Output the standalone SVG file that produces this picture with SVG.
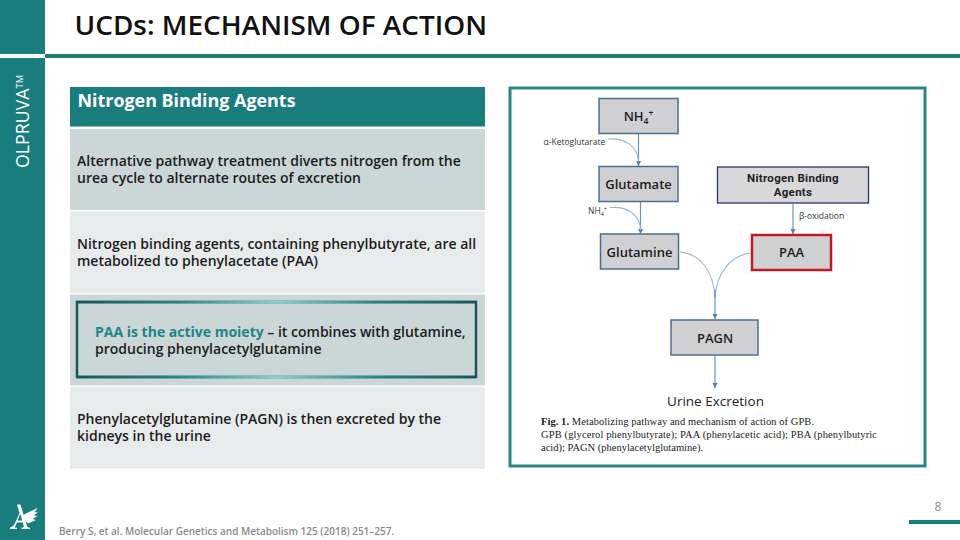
<svg xmlns="http://www.w3.org/2000/svg" width="960" height="540" viewBox="0 0 960 540">
<style>
text{font-family:"Open Sans","Noto Sans","Liberation Sans",sans-serif}
.body{font-size:14px;font-weight:600;fill:#1c1c1c}
.box{fill:#d0d0d2;stroke:#4d6f8f;stroke-width:1.5}
.lbl{font-size:13px;font-weight:600;fill:#1c1c1c;text-anchor:middle}
.agents{font-family:Roboto,"Open Sans",sans-serif;font-size:11.500px;font-weight:700;fill:#222;text-anchor:middle;letter-spacing:.3px}
.small{font-size:8.500px;font-weight:500;fill:#333}
.cap{font-family:"Liberation Serif",serif;font-size:10.500px;fill:#222}
.edge{fill:none;stroke:#6d94b8;stroke-width:1.2}
.edgelt{fill:none;stroke:#9cb8d2;stroke-width:1.1}
</style>
<defs>
<marker id="tip" markerWidth="7" markerHeight="6" refX="5" refY="2.500" orient="auto" markerUnits="userSpaceOnUse"><path d="M0 0L5 2.500L0 5Z" fill="#4f82b0"/></marker>
<linearGradient id="glow" x1="0" x2="1" y1="0" y2="0"><stop offset="0" stop-color="#17585a"/><stop offset=".25" stop-color="#2a8484"/><stop offset=".5" stop-color="#86d2ce"/><stop offset=".75" stop-color="#2a8484"/><stop offset="1" stop-color="#17585a"/></linearGradient>
</defs>

<!-- slide frame -->
<rect x="0" y="0" width="45" height="54" fill="#1a7d7d"/>
<rect x="0" y="58" width="45" height="482" fill="#1a7d7d"/>
<rect x="45" y="54" width="915" height="4" fill="#1a7d7d"/>
<text x="74.500" y="35" font-size="27.900" font-weight="600" fill="#111">UCDs: MECHANISM OF ACTION</text>
<text transform="translate(29 168) rotate(-90)" font-size="17.800" font-weight="400" fill="#fff">OLPRUVA<tspan font-size="9.500" dy="-6">TM</tspan></text>

<g id="logo" fill="#fff">
<path d="M10 529V527.500C13 527 14 525 15.500 522L19.500 513L17 504.500H20.500L27 526C27.500 527.500 28.500 527.500 30 527.700V529H21.500V527.600C24 527.500 24 527 23.500 525L22.800 522.500H17L15 527C14.800 527.600 15.500 527.600 17 527.700V529ZM17.800 520.500H22.200L20.200 513.500Z"/>
<path d="M23 515C27 513 33 510 37.500 508L34.500 512.500L38 512L34 515.500L37.500 516L32.500 519L36 520L28 523.500L25.500 521Z"/>
</g>

<!-- table -->
<g id="table-header">
<rect x="70" y="87" width="415" height="39.500" fill="#1a7d7d"/>
<text x="77.500" y="106.500" font-size="17.900" font-weight="700" fill="#fff">Nitrogen Binding Agents</text>
</g>
<g id="row-1">
<rect x="70" y="129" width="415" height="81" fill="#cbd6d6"/>
<text class="body" x="77" y="166">Alternative pathway treatment diverts nitrogen from the</text>
<text class="body" x="77" y="183">urea cycle to alternate routes of excretion</text>
</g>
<g id="row-2">
<rect x="70" y="211.500" width="415" height="81.500" fill="#e7ebeb"/>
<text class="body" x="77" y="249">Nitrogen binding agents, containing phenylbutyrate, are all</text>
<text class="body" x="77" y="266">metabolized to phenylacetate (PAA)</text>
</g>
<g id="row-3">
<rect x="70" y="294.500" width="415" height="91" fill="#cbd6d6"/>
<rect x="77" y="302" width="399" height="75" fill="none" stroke="#17585a" stroke-width="2.500"/>
<rect x="77" y="300.800" width="399" height="2.600" fill="url(#glow)"/>
<rect x="77" y="375.700" width="399" height="2.600" fill="url(#glow)"/>
<text class="body" x="95" y="337"><tspan fill="#1f8585" font-weight="700">PAA is the active moiety</tspan> – it combines with glutamine,</text>
<text class="body" x="95" y="354">producing phenylacetylglutamine</text>
</g>
<g id="row-4">
<rect x="70" y="387" width="415" height="82" fill="#e7ebeb"/>
<text class="body" x="77" y="424">Phenylacetylglutamine (PAGN) is then excreted by the</text>
<text class="body" x="77" y="441">kidneys in the urine</text>
</g>

<!-- pathway figure -->
<rect id="figure-frame" x="510" y="88" width="415" height="378" fill="#fff" stroke="#2d8484" stroke-width="3"/>

<g id="connectors">
<path class="edge" d="M638.500 134V166" marker-end="url(#tip)"/>
<path class="edgelt" d="M608 139C625 138 638 146 638.500 162"/>
<path class="edge" d="M640.500 202V234" marker-end="url(#tip)"/>
<path class="edgelt" d="M610 207.500C628 206 640 215 640.500 230"/>
<path class="edge" d="M793 204V234" marker-end="url(#tip)"/>
<path class="edgelt" d="M680 252C702 254 714 274 715 298"/>
<path class="edgelt" d="M750 253C730 256 716 274 715 298"/>
<path class="edge" d="M715 290V319" marker-end="url(#tip)"/>
<path class="edge" d="M715 355V388" marker-end="url(#tip)"/>
</g>

<g id="nh4"><rect class="box" x="599" y="98.500" width="79" height="35"/><text class="lbl" x="638.500" y="121">NH<tspan font-size="8.500" dy="3">4</tspan><tspan font-size="8.500" dy="-8">+</tspan></text></g>
<g id="glutamate"><rect class="box" x="599" y="166.500" width="79" height="35"/><text class="lbl" x="638.500" y="189">Glutamate</text></g>
<g id="glutamine"><rect class="box" x="600.500" y="234" width="78" height="35"/><text class="lbl" x="639.500" y="256.500">Glutamine</text></g>
<g id="agents"><rect x="717.500" y="167" width="151" height="36" fill="#d8d8da" stroke="#2c3568" stroke-width="1.300"/><text class="agents" x="793" y="182">Nitrogen Binding</text><text class="agents" x="793" y="196">Agents</text></g>
<g id="paa"><rect x="752" y="235" width="79" height="35" fill="#d0d0d2" stroke="#c01a20" stroke-width="2.500"/><text class="lbl" x="791.500" y="257">PAA</text></g>
<g id="pagn"><rect class="box" x="671" y="320" width="87" height="35"/><text class="lbl" x="715" y="342.500">PAGN</text></g>

<text class="small" x="543.500" y="144.500">α-Ketoglutarate</text>
<text class="small" x="588" y="214">NH<tspan font-size="5.500" dy="2">4</tspan><tspan font-size="5.500" dy="-5">+</tspan></text>
<text class="small" x="799" y="219">β-oxidation</text>
<text x="715.500" y="405.500" font-size="13.500" font-weight="400" fill="#222" text-anchor="middle">Urine Excretion</text>
<text class="cap" x="541" y="424.500" textLength="273"><tspan font-weight="700">Fig. 1.</tspan> Metabolizing pathway and mechanism of action of GPB.</text>
<text class="cap" x="541" y="437.500" textLength="336">GPB (glycerol phenylbutyrate); PAA (phenylacetic acid); PBA (phenylbutyric</text>
<text class="cap" x="541" y="450.500">acid); PAGN (phenylacetylglutamine).</text>

<!-- footer -->
<text x="59" y="535" font-size="10" font-weight="600" fill="#8a8a8a">Berry S, et al. Molecular Genetics and Metabolism 125 (2018) 251–257.</text>
<text x="938" y="511" font-size="12" fill="#8a8a8a" text-anchor="middle">8</text>
<rect x="909" y="520" width="51" height="4" fill="#1a7d7d"/>
</svg>
